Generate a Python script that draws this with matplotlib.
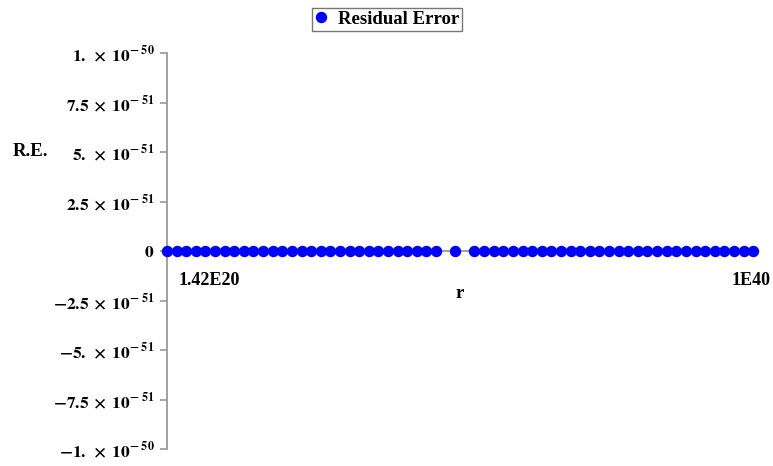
import matplotlib
matplotlib.use('Agg')
import matplotlib.pyplot as plt

# ---- data ----
r_index = [0, 1, 2, 3, 4, 5, 6, 7, 8, 9, 10, 11, 12, 13, 14, 15, 16, 17, 18, 19,
           20, 21, 22, 23, 24, 25, 26, 27, 28,
           30,
           32, 33, 34, 35, 36, 37, 38, 39, 40, 41, 42, 43, 44, 45, 46, 47, 48, 49,
           50, 51, 52, 53, 54, 55, 56, 57, 58, 59, 60, 61]
residual = [0, 0, 0, 0, 0, 0, 0, 0, 0, 0, 0, 0, 0, 0, 0, 0, 0, 0, 0, 0,
            0, 0, 0, 0, 0, 0, 0, 0, 0,
            0,
            0, 0, 0, 0, 0, 0, 0, 0, 0, 0, 0, 0, 0, 0, 0, 0, 0, 0,
            0, 0, 0, 0, 0, 0, 0, 0, 0, 0, 0, 0]
x_tick_pos = [4.35, 60.8]
x_tick_labels = ['1.42E20', '1E40']
y_ticks = [-1e-50, -7.5e-51, -5e-51, -2.5e-51, 0, 2.5e-51, 5e-51, 7.5e-51, 1e-50]
y_tick_labels = [r'$\mathbf{-1.\;\times\;10^{-\;50}}$',
                 r'$\mathbf{-7.5\;\times\;10^{-\;51}}$',
                 r'$\mathbf{-5.\;\times\;10^{-\;51}}$',
                 r'$\mathbf{-2.5\;\times\;10^{-\;51}}$',
                 r'$\mathbf{0}$',
                 r'$\mathbf{2.5\;\times\;10^{-\;51}}$',
                 r'$\mathbf{5.\;\times\;10^{-\;51}}$',
                 r'$\mathbf{7.5\;\times\;10^{-\;51}}$',
                 r'$\mathbf{1.\;\times\;10^{-\;50}}$']

plt.rcParams['font.family'] = ['Liberation Serif', 'DejaVu Serif']
plt.rcParams['mathtext.fontset'] = 'stix'

W, H = 773, 466
fig = plt.figure(figsize=(W / 100, H / 100), dpi=100)
ax = fig.add_axes([167 / W, (H - 449) / H, (757 - 167) / W, (449 - 53) / H])
ax.set_xlim(0, 61.4)
ax.set_ylim(-1e-50, 1e-50)

gray = '#9a9a9a'
pts, = ax.plot(r_index, residual, 'o', color='#0000ff', mec='#0000ff', ms=7.2,
               label='Residual Error', zorder=3, clip_on=False, linestyle='none')

for s in ['top', 'right']:
    ax.spines[s].set_visible(False)
ax.spines['left'].set_color(gray)
ax.spines['left'].set_linewidth(1.3)
ax.spines['bottom'].set_position(('data', 0))
ax.spines['bottom'].set_color(gray)
ax.spines['bottom'].set_linewidth(1.3)

ax.set_yticks(y_ticks)
ax.set_yticklabels(y_tick_labels)
ax.tick_params(axis='y', direction='out', length=5, width=1.2, color=gray,
               pad=4, labelsize=12.5)
ax.set_xticks(x_tick_pos)
ax.set_xticklabels(x_tick_labels, fontweight='bold')
ax.tick_params(axis='x', direction='out', length=3, width=1.0, color=gray,
               pad=12, labelsize=13)

fig.text(30 / W, 1 - 152 / H, 'R.E.', ha='center', va='center',
         fontsize=13.5, fontweight='bold')
fig.text(460 / W, 1 - 293 / H, 'r', ha='center', va='center',
         fontsize=13.5, fontweight='bold')

leg = fig.legend(handles=[pts], loc='upper center',
                 bbox_to_anchor=(387 / W, 1 - 8 / H), borderaxespad=0,
                 fancybox=False, edgecolor='#777777', framealpha=1,
                 prop={'weight': 'bold', 'size': 13.5}, handlelength=0.7,
                 handletextpad=0.55, borderpad=0.15)
leg.get_frame().set_linewidth(1.0)

fig.savefig('out.png', dpi=100)
